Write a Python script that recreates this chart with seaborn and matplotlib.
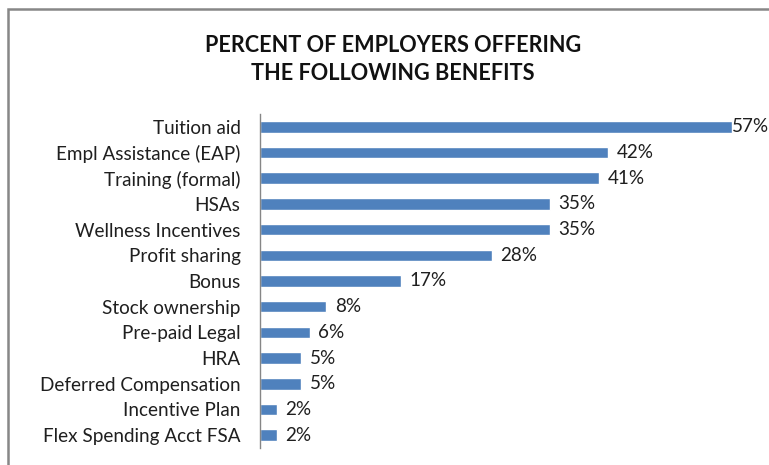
import matplotlib
matplotlib.use("Agg")
import matplotlib.pyplot as plt
import seaborn as sns
import pandas as pd
from matplotlib.patches import Rectangle

benefits = [
    "Tuition aid", "Empl Assistance (EAP)", "Training (formal)", "HSAs",
    "Wellness Incentives", "Profit sharing", "Bonus", "Stock ownership",
    "Pre-paid Legal", "HRA", "Deferred Compensation", "Incentive Plan",
    "Flex Spending Acct FSA",
]
percent = [57, 42, 41, 35, 35, 28, 17, 8, 6, 5, 5, 2, 2]
value_labels = ["57%", "42%", "41%", "35%", "35%", "28%", "17%", "8%", "6%", "5%", "5%", "2%", "2%"]

df = pd.DataFrame({"benefit": benefits, "percent": percent})

sns.set_theme(style="white")
plt.rcParams["font.family"] = ["Lato", "DejaVu Sans"]

W, H = 769, 465
fig = plt.figure(figsize=(W / 100, H / 100), dpi=100)
ax = fig.add_axes([260 / W, 1 - 448 / H, (W - 260) / W, (448 - 114) / H])

bar_color = "#4F81BD"
sns.barplot(data=df, x="percent", y="benefit", orient="h", color=bar_color,
            width=0.45, saturation=1, ax=ax)

ax.set_xlim(0, (W - 260) / 8.28)
ax.set_ylim(len(benefits) - 0.5, -0.5)
ax.set_xlabel("")
ax.set_ylabel("")
ax.set_xticks([])
ax.tick_params(axis="y", length=0, pad=14, labelsize=13.6, labelcolor="#1f1f1f")
for s in ["top", "right", "bottom"]:
    ax.spines[s].set_visible(False)
ax.spines["left"].set_color("#868686")
ax.spines["left"].set_linewidth(1.0)

# longest bar's label sits tight against the bar end so it stays inside the frame
top_val = max(percent)
for i, (v, lab) in enumerate(zip(percent, value_labels)):
    off = 0.2 if v == top_val else 6.3
    ax.annotate(lab, (v, i), xytext=(off, 0), textcoords="offset points",
                va="center", ha="left", fontsize=13.6, color="#1f1f1f",
                annotation_clip=False)

fig.text(393 / W, 1 - 45 / H, "PERCENT OF EMPLOYERS OFFERING", ha="center", va="center",
         fontsize=15.6, fontweight="bold", color="#111111")
fig.text(393 / W, 1 - 73 / H, "THE FOLLOWING BENEFITS", ha="center", va="center",
         fontsize=15.6, fontweight="bold", color="#111111")

fig.patches.append(Rectangle((7.5 / W, -0.1), 1.2, 1.1 - 9.5 / H, transform=fig.transFigure,
                             fill=False, edgecolor="#878787", linewidth=1.8))

fig.savefig("out.png", dpi=100)
